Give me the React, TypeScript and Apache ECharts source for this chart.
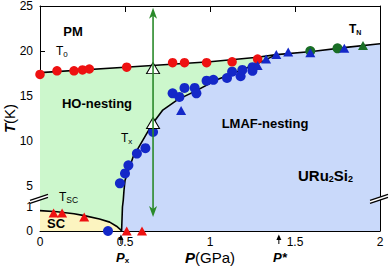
import React, { useEffect, useRef } from 'react';
import * as echarts from 'echarts';

// ---------------- data: pressure (GPa), temperature (K) ----------------
const t0RedCircles = [[0, 17.4], [0.1, 17.8], [0.2, 17.8], [0.25, 17.9], [0.29, 18.0], [0.51, 18.2], [0.78, 18.7], [0.85, 18.7], [0.98, 18.7], [1.13, 18.8], [1.28, 19.1]];
const txBlueCircles = [[0.4, 0], [0.47, 5.3], [0.5, 6.4], [0.52, 7.3], [0.57, 8.6], [0.62, 9.2], [0.665, 11.0], [0.78, 15.3], [0.82, 14.9], [0.85, 15.9], [0.91, 15.9], [0.92, 15.3], [0.98, 16.7], [1.02, 16.8], [1.1, 17.0], [1.13, 17.7], [1.18, 17.2], [1.19, 17.9], [1.25, 17.8], [1.25, 18.2]];
const blueTriangles = [[0.83, 13.4], [1.28, 18.4], [1.33, 19.1], [1.39, 19.6], [1.46, 19.9], [1.59, 19.8], [1.79, 20.3]];
const greenCircles = [[1.59, 20.0], [1.75, 20.3]];
const greenTriangles = [[1.9, 20.6]];
const redTriangles = [[0.08, 0.75], [0.13, 0.75], [0.26, 0.58], [0.51, 0], [0.6, 0]];
const openTriangles = [[0.665, 18.1], [0.665, 12.0]];

const t0Line = [[0, 17.6], [0.5, 18.2], [1.0, 18.8], [1.28, 19.3], [1.39, 19.6]];
const tnLine = [[1.39, 19.6], [1.6, 19.95], [1.8, 20.4], [2.0, 20.8]];
const txLine = [[0.48, 0], [0.485, 1.0], [0.49, 1.3], [0.494, 4.5], [0.5, 5.6], [0.547, 8.2], [0.63, 10.9], [0.665, 12.0], [0.72, 13.4], [0.81, 14.6], [0.92, 15.6], [1.04, 16.8], [1.16, 17.7], [1.28, 18.6], [1.39, 19.6]];
const scLine = [[0, 0.85], [0.1, 0.8], [0.2, 0.72], [0.26, 0.64], [0.35, 0.5], [0.41, 0.37], [0.45, 0.2], [0.47, 0.08], [0.48, 0]];

const greenArrow = [[0.665, 0.58, 24.8]]; // pressure, lower T, upper T
const pressureMarks = [[0.476], [1.405]]; // Px, P*
const breakTemp = 2.5; // temperature inside the axis break

const yTickTemps = [0, 1, 5, 10, 15, 20, 25];

// ---------------- broken-axis mapping ----------------
const K_LOW = 8 / 3;
const B1 = 1.3;
const B2 = 3.8;
function toD(t: number): number {
  if (t <= B1) return t * K_LOW;
  if (t >= B2) return t;
  const d1 = B1 * K_LOW;
  return d1 + ((t - B1) * (B2 - d1)) / (B2 - B1);
}
const yTickD = yTickTemps.map(toD);
const yFormatter = (v: number) => {
  const i = yTickD.findIndex((c) => Math.abs(c - v) < 1e-6);
  return i >= 0 ? String(yTickTemps[i]) : '';
};

const FONT = 'Liberation Sans, Arial, sans-serif';
const RED = '#ee1111';
const BLUE = '#1428c8';
const DKGREEN = '#1a6e26';
const ARROWGREEN = '#2a8a2a';
const FILL_GREEN = '#ccf7cc';
const FILL_BLUE = '#c9d9fa';
const FILL_YELLOW = '#fcf4c0';

const mapPts = (arr: number[][]) => arr.map(([x, t]) => [x, toD(t)]);

function subText(x: number, y: number, main: string, sub: string, size: number, subSize: number, weight = 'normal', style = 'normal') {
  return {
    type: 'text',
    x,
    y,
    z: 100,
    silent: true,
    style: {
      text: `{a|${main}}{b|${sub}}`,
      align: 'left',
      verticalAlign: 'middle',
      rich: {
        a: { fontSize: size, fontWeight: weight, fontStyle: style, fontFamily: FONT, fill: '#000', lineHeight: size + 2 },
        b: { fontSize: subSize, fontWeight: weight, fontFamily: FONT, fill: '#000', lineHeight: subSize, verticalAlign: 'bottom' },
      },
    },
  };
}
function plainText(x: number, y: number, text: string, size: number, weight = 'normal', style = 'normal', align = 'center') {
  return {
    type: 'text',
    x,
    y,
    z: 100,
    silent: true,
    style: { text, fontSize: size, fontWeight: weight, fontStyle: style, fontFamily: FONT, fill: '#000', align, verticalAlign: 'middle' },
  };
}

export default function App() {
  const ref = useRef<HTMLDivElement>(null);
  useEffect(() => {
    if (!ref.current) return;
    const chart = echarts.init(ref.current, undefined, { renderer: 'svg' });

    const greenPoly = [...t0Line, ...txLine.slice().reverse(), [0, 0]];
    const bluePoly = [...txLine, ...tnLine.slice(1), [2, 0]];
    const scPoly = [[0, 0], ...scLine];

    const scatter = (name: string, data: number[][], symbol: string, color: string, size: any, z: number, border?: string) => ({
      type: 'scatter',
      name,
      data: mapPts(data),
      symbol,
      symbolSize: size,
      clip: false,
      z,
      itemStyle: border ? { color, borderColor: border, borderWidth: 1, opacity: 1 } : { color, opacity: 1 },
      silent: true,
    });
    const line = (name: string, data: number[][]) => ({
      type: 'line',
      name,
      data: mapPts(data),
      symbol: 'none',
      z: 2,
      lineStyle: { color: '#000', width: 1.6 },
      silent: true,
    });

    const axisCommon = {
      axisLine: { show: true, onZero: false, lineStyle: { color: '#000', width: 1 } },
      splitLine: { show: false },
    };
    const nameStyle = {
      fontSize: 15, fontFamily: FONT, color: '#000',
      rich: { i: { fontSize: 15, fontFamily: FONT, fontWeight: 'bold', fontStyle: 'italic', color: '#000' } },
    };

    const option: any = {
      animation: false,
      backgroundColor: '#fff',
      grid: { left: 40, right: 11, top: 6, bottom: 35, containLabel: false, outerBoundsMode: 'none' },
      xAxis: [
        {
          type: 'value', min: 0, max: 2, interval: 0.5, position: 'bottom', ...axisCommon,
          axisTick: { inside: true, length: 6, lineStyle: { color: '#000' } },
          axisLabel: { fontSize: 12, color: '#000', fontFamily: FONT, margin: 5, showMinLabel: true, showMaxLabel: true, hideOverlap: false, alignMinLabel: 'center', alignMaxLabel: 'center' },
          name: '{i|P}(GPa)', nameLocation: 'middle', nameGap: 19, nameMoveOverlap: false,
          nameTextStyle: nameStyle,
        },
        {
          type: 'value', min: 0, max: 2, interval: 0.5, position: 'top', ...axisCommon,
          axisTick: { inside: true, length: 6, lineStyle: { color: '#000' } },
          axisLabel: { show: false },
        },
      ],
      yAxis: [
        {
          type: 'value', min: 0, max: 25, interval: 5, position: 'left', ...axisCommon,
          axisTick: { inside: true, length: 5, customValues: yTickD, lineStyle: { color: '#000' } },
          axisLabel: { fontSize: 12, color: '#000', fontFamily: FONT, margin: 7, customValues: yTickD, formatter: yFormatter, showMinLabel: true, hideOverlap: false, verticalAlignMinLabel: 'middle', verticalAlignMaxLabel: 'middle' },
          name: '{i|T}(K)', nameLocation: 'middle', nameGap: 23, nameMoveOverlap: false,
          nameTextStyle: nameStyle,
        },
        {
          type: 'value', min: 0, max: 25, interval: 5, position: 'right', ...axisCommon,
          axisTick: { inside: true, length: 5, customValues: yTickD, lineStyle: { color: '#000' } },
          axisLabel: { show: false },
        },
      ],
      series: [
        {
          type: 'custom', name: 'phases', coordinateSystem: 'cartesian2d', z: 1, silent: true, clip: true,
          data: [[0, 0]],
          renderItem: (_p: any, api: any) => {
            const pts = (arr: number[][]) => arr.map(([x, t]) => api.coord([x, toD(t)]));
            return {
              type: 'group',
              children: [
                { type: 'polygon', shape: { points: pts(greenPoly) }, style: { fill: FILL_GREEN } },
                { type: 'polygon', shape: { points: pts(bluePoly) }, style: { fill: FILL_BLUE } },
                { type: 'polygon', shape: { points: pts(scPoly) }, style: { fill: FILL_YELLOW } },
              ],
            };
          },
        },
        line('T0', t0Line),
        line('TN', tnLine),
        line('Tx', txLine),
        line('Tsc', scLine),
        scatter('green circles', greenCircles, 'circle', DKGREEN, 10, 3),
        scatter('T0 red circles', t0RedCircles, 'circle', RED, 9.5, 3),
        scatter('Tx blue circles', txBlueCircles, 'circle', BLUE, 10, 3),
        scatter('blue triangles', blueTriangles, 'triangle', BLUE, [10, 9], 4),
        scatter('green triangles', greenTriangles, 'triangle', DKGREEN, [10, 9], 4),
        scatter('red triangles', redTriangles, 'triangle', RED, [10, 9], 4),
        scatter('open triangles', openTriangles, 'triangle', '#fff', [13, 11], 5, '#000'),
        {
          type: 'custom', name: 'green arrow', coordinateSystem: 'cartesian2d', z: 6, silent: true, clip: false,
          data: greenArrow,
          encode: { x: 0, y: [1, 2] },
          renderItem: (_p: any, api: any) => {
            const a = api.coord([api.value(0), toD(api.value(1))]);
            const b = api.coord([api.value(0), toD(api.value(2))]);
            const x = a[0];
            return {
              type: 'group',
              children: [
                { type: 'line', shape: { x1: x, y1: a[1] - 6, x2: x, y2: b[1] + 6 }, style: { stroke: ARROWGREEN, lineWidth: 1.6 } },
                { type: 'polygon', shape: { points: [[x, b[1]], [x - 4, b[1] + 11], [x, b[1] + 8], [x + 4, b[1] + 11]] }, style: { fill: ARROWGREEN } },
                { type: 'polygon', shape: { points: [[x, a[1]], [x - 4, a[1] - 11], [x, a[1] - 8], [x + 4, a[1] - 11]] }, style: { fill: ARROWGREEN } },
              ],
            };
          },
        },
        {
          type: 'custom', name: 'axis breaks', coordinateSystem: 'cartesian2d', z: 7, silent: true, clip: false,
          data: [[0, toD(breakTemp)], [2, toD(breakTemp)]],
          renderItem: (_p: any, api: any) => {
            const p = api.coord([api.value(0), api.value(1)]);
            const [cx, cy] = p;
            const u1 = [cx - 10, cy + 2], u2 = [cx + 8, cy - 4];
            const l1 = [cx - 10, cy + 5], l2 = [cx + 8, cy - 1];
            return {
              type: 'group',
              children: [
                { type: 'polygon', shape: { points: [u1, u2, l2, l1] }, style: { fill: '#fff' } },
                { type: 'line', shape: { x1: u1[0], y1: u1[1], x2: u2[0], y2: u2[1] }, style: { stroke: '#000', lineWidth: 1.2 } },
                { type: 'line', shape: { x1: l1[0], y1: l1[1], x2: l2[0], y2: l2[1] }, style: { stroke: '#000', lineWidth: 1.2 } },
              ],
            };
          },
        },
        {
          type: 'custom', name: 'pressure marks', coordinateSystem: 'cartesian2d', z: 7, silent: true, clip: false,
          data: pressureMarks.map(([x]) => [x, 0]),
          renderItem: (_p: any, api: any) => {
            const p = api.coord([api.value(0), 0]);
            const [x, y] = p;
            return {
              type: 'group',
              children: [
                { type: 'line', shape: { x1: x, y1: y + 13, x2: x, y2: y + 7 }, style: { stroke: '#000', lineWidth: 1 } },
                { type: 'polygon', shape: { points: [[x, y + 3.5], [x - 2.5, y + 9], [x + 2.5, y + 9]] }, style: { fill: '#000' } },
              ],
            };
          },
        },
      ],
      graphic: [
        plainText(73, 31, 'PM', 13, 'bold'),
        subText(56, 51, 'T', '0', 12, 8),
        plainText(97, 103, 'HO-nesting', 13, 'bold'),
        subText(121, 138, 'T', 'x', 12, 8),
        plainText(265, 123, 'LMAF-nesting', 13, 'bold'),
        subText(349, 29, 'T', 'N', 12, 7, 'bold'),
        subText(59, 197, 'T', 'SC', 12, 8.5),
        plainText(56, 223, 'SC', 13, 'bold'),
        {
          type: 'text', x: 298, y: 175, z: 100, silent: true,
          style: {
            text: '{a|URu}{b|2}{a|Si}{b|2}', align: 'left', verticalAlign: 'middle',
            rich: {
              a: { fontSize: 15, fontWeight: 'bold', fontFamily: FONT, fill: '#000', lineHeight: 17 },
              b: { fontSize: 9, fontWeight: 'bold', fontFamily: FONT, fill: '#000', lineHeight: 9, verticalAlign: 'bottom' },
            },
          },
        },
        subText(116, 257, 'P', 'x', 13, 8, 'bold', 'italic'),
        plainText(273, 257, 'P*', 13, 'bold', 'italic', 'left'),
      ],
    };
    chart.setOption(option);
    return () => chart.dispose();
  }, []);
  return <div ref={ref} style={{ position: 'fixed', left: 0, top: 0, width: 391, height: 266, background: '#fff' }} />;
}
